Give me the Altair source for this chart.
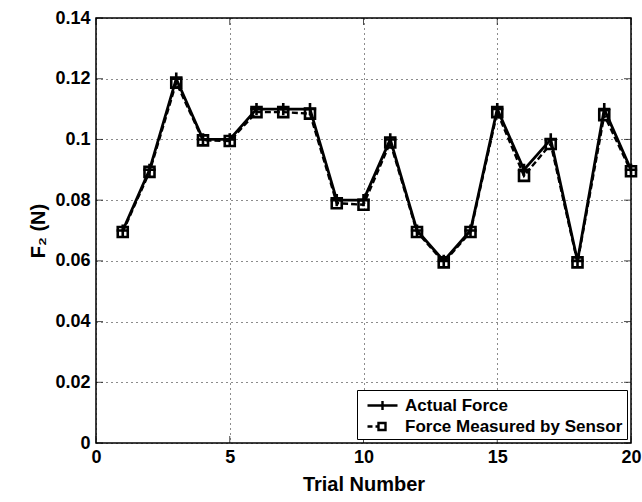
import altair as alt
import pandas as pd

trials = list(range(1, 21))
actual = [0.070, 0.090, 0.120, 0.100, 0.100, 0.110, 0.110, 0.110, 0.080, 0.080,
          0.100, 0.070, 0.060, 0.070, 0.110, 0.090, 0.100, 0.060, 0.110, 0.090]
measured = [0.0695, 0.0893, 0.1187, 0.0997, 0.0995, 0.1090, 0.1090, 0.1085, 0.0790, 0.0785,
            0.0990, 0.0695, 0.0595, 0.0695, 0.1090, 0.0880, 0.0985, 0.0595, 0.1080, 0.0895]
series_names = ["Actual Force", "Force Measured by Sensor"]
x_ticks = [0, 5, 10, 15, 20]
y_ticks = [0, 0.02, 0.04, 0.06, 0.08, 0.10, 0.12, 0.14]

df = pd.DataFrame({
    "trial": trials * 2,
    "force": actual + measured,
    "series": [series_names[0]] * 20 + [series_names[1]] * 20,
})
xt = pd.DataFrame({"trial": x_ticks})
yt = pd.DataFrame({"force": y_ticks})

FONT = "Liberation Sans"
W, H = 535, 425

xs = alt.Scale(domain=[0, 20], nice=False, zero=False)
ys = alt.Scale(domain=[0, 0.14], nice=False)

xaxis = alt.Axis(
    values=x_ticks, title="Trial Number", grid=True, gridDash=[1, 4], gridColor="black",
    gridOpacity=0.9, ticks=False, labelPadding=5, domain=False,
    labelFont=FONT, labelFontSize=18, labelFontWeight="bold", labelColor="black",
    titleFont=FONT, titleFontSize=20, titleFontWeight="bold", titleColor="black",
    titlePadding=8, labelFlush=False)
yaxis = alt.Axis(
    values=y_ticks, title="F₂ (N)", grid=True, gridDash=[1, 4], gridColor="black",
    gridOpacity=0.9, ticks=False, labelPadding=6, domain=False, format="~g",
    labelFont=FONT, labelFontSize=18, labelFontWeight="bold", labelColor="black",
    titleFont=FONT, titleFontSize=20, titleFontWeight="bold", titleColor="black",
    titlePadding=6, labelFlush=False)
xenc = alt.X("trial:Q", scale=xs, axis=xaxis)
yenc = alt.Y("force:Q", scale=ys, axis=yaxis)

base = alt.Chart(df)

line_actual = base.transform_filter(alt.datum.series == series_names[0]).mark_line(
    color="black", strokeWidth=2.8).encode(x=xenc, y=yenc)
line_meas = base.transform_filter(alt.datum.series == series_names[1]).mark_line(
    color="black", strokeWidth=2.4, strokeDash=[6, 3]).encode(x=xenc, y=yenc)
pts_meas = base.transform_filter(alt.datum.series == series_names[1]).mark_point(
    shape="square", size=100, filled=False, color="black", strokeWidth=2.6, opacity=1
).encode(x=xenc, y=yenc)
pts_actual = base.transform_filter(alt.datum.series == series_names[0]).mark_point(
    shape="M-1,0H1M0,-1V1", size=150, filled=False, color="black", strokeWidth=2.6, opacity=1
).encode(x=xenc, y=yenc)

legend_paths = [
    "M-1.5,0H1.5M0,-0.45V0.45",
    "M-1.5,0H-1.0M-0.7,0H-0.4M-0.4,-0.35H0.3V0.35H-0.4Z",
]
legend_layer = base.mark_point(opacity=0, filled=False).encode(
    x=xenc, y=yenc,
    shape=alt.Shape("series:N", scale=alt.Scale(domain=series_names, range=legend_paths),
                    legend=alt.Legend(
                        title=None, orient="bottom-right", offset=4, symbolSize=400,
                        symbolOpacity=1, symbolStrokeColor="black", symbolStrokeWidth=2.4,
                        symbolFillColor="transparent", symbolOffset=10, labelOffset=11,
                        labelFont=FONT, labelFontSize=17, labelFontWeight="bold",
                        labelColor="black", labelLimit=400, rowPadding=0,
                        fillColor="white", strokeColor="black", padding=4,
                        cornerRadius=0)),
)

ticks_left = alt.Chart(yt).mark_tick(color="black", size=7, thickness=1).encode(
    y=yenc, x=alt.value(3.5))
ticks_right = alt.Chart(yt).mark_tick(color="black", size=7, thickness=1).encode(
    y=yenc, x=alt.value(W - 3.5))
ticks_bottom = alt.Chart(xt).mark_tick(color="black", size=7, thickness=1).encode(
    x=xenc, y=alt.value(H - 3.5))
ticks_top = alt.Chart(xt).mark_tick(color="black", size=7, thickness=1).encode(
    x=xenc, y=alt.value(3.5))

chart = alt.layer(
    line_meas, line_actual, pts_meas, pts_actual, legend_layer,
    ticks_left, ticks_right, ticks_bottom, ticks_top,
).properties(
    width=W, height=H,
    autosize=alt.AutoSizeParams(type="none"),
    padding={"left": 96, "top": 18, "right": 11, "bottom": 59},
    background="white",
).configure_view(stroke="black", strokeWidth=1.5)

chart.save("out.html", embed_options={"renderer": "svg", "actions": False})
